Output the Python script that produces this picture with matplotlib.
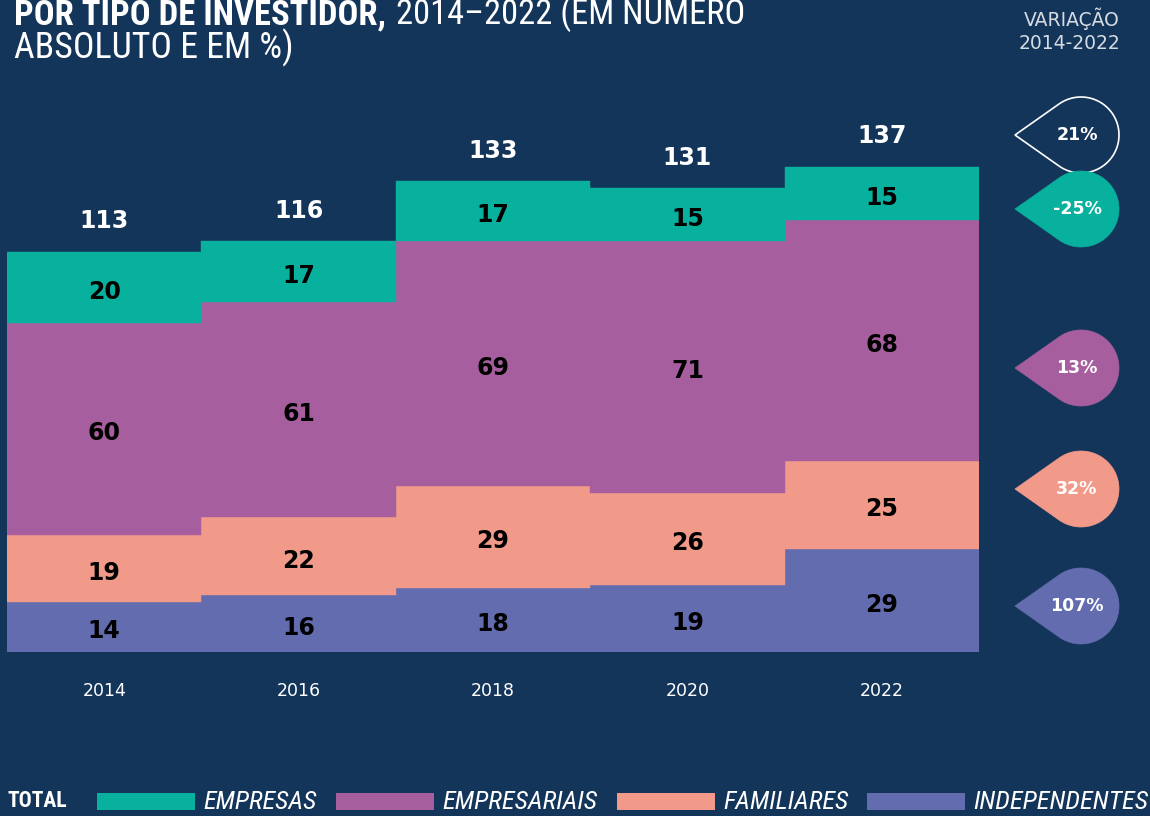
import numpy as np
import matplotlib.pyplot as plt
from matplotlib import font_manager
from matplotlib.path import Path
from matplotlib.patches import PathPatch, Rectangle

# data
years = ["2014", "2016", "2018", "2020", "2022"]
categories = ["EMPRESAS", "EMPRESARIAIS", "FAMILIARES", "INDEPENDENTES"]
independentes = [14, 16, 18, 19, 29]
familiares = [19, 22, 29, 26, 25]
empresariais = [60, 61, 69, 71, 68]
empresas = [20, 17, 17, 15, 15]
totals = [113, 116, 133, 131, 137]
variation_labels = ["21%", "-25%", "13%", "32%", "107%"]

BG = "#14355a"
colors = {
    "EMPRESAS": "#08b09e",
    "EMPRESARIAIS": "#a65e9e",
    "FAMILIARES": "#f29a89",
    "INDEPENDENTES": "#636caf",
}

# pick a condensed font if one is installed
entries = font_manager.fontManager.ttflist
names = {f.name for f in entries}
COND, STRETCH = "Roboto", "normal"
for cand in ["Roboto Condensed", "Liberation Sans Narrow", "Open Sans Condensed",
             "Noto Sans Condensed", "DejaVu Sans Condensed"]:
    if cand in names:
        COND, STRETCH = cand, "normal"
        break
else:
    if any(f.name == "DejaVu Sans" and str(f.stretch) in ("condensed", "semi-condensed")
           for f in entries):
        COND, STRETCH = "DejaVu Sans", "condensed"

W, H = 1150, 816
fig = plt.figure(figsize=(W / 100, H / 100), dpi=100, facecolor=BG)
ax = fig.add_axes([7 / W, 164 / H, 972 / W, 552 / H])
ax.set_facecolor(BG)

x = np.arange(len(years))
stack = [
    ("INDEPENDENTES", independentes),
    ("FAMILIARES", familiares),
    ("EMPRESARIAIS", empresariais),
    ("EMPRESAS", empresas),
]
bottom = np.zeros(len(years))
for name, vals in stack:
    vals = np.array(vals)
    ax.bar(x, vals, width=1.0, bottom=bottom, color=colors[name],
           edgecolor=colors[name], linewidth=0.3)
    for xi, b, v in zip(x, bottom, vals):
        ax.annotate(str(v), (xi, b + v / 2), xytext=(0, -3),
                    textcoords="offset points", ha="center", va="center",
                    fontsize=17, fontweight="bold", color="black")
    bottom = bottom + vals

for xi, t in zip(x, totals):
    ax.annotate(str(t), (xi, t), xytext=(0, 22), textcoords="offset points",
                ha="center", va="center", fontsize=17, fontweight="bold",
                color="white")

ax.set_xlim(-0.5, 4.5)
ax.set_ylim(0, 552 / 3.54)
ax.set_xticks(x)
ax.set_xticklabels(years, fontsize=12.5, color="white")
ax.tick_params(axis="x", length=0, pad=21.5)
ax.set_yticks([])
for s in ax.spines.values():
    s.set_visible(False)

# title
fitted = []
t1 = fig.text(14 / W, 1 - 24 / H, "POR TIPO DE INVESTIDOR,", family=COND,
              fontstretch=STRETCH, fontsize=22, fontweight="bold",
              color="white", va="baseline")
t2 = fig.text(396 / W, 1 - 24 / H, "2014\u20132022 (EM NÚMERO", family=COND,
              fontstretch=STRETCH, fontsize=22, color="white", va="baseline")
t3 = fig.text(14 / W, 1 - 58 / H, "ABSOLUTO E EM %)", family=COND,
              fontstretch=STRETCH, fontsize=22, color="white", va="baseline")
fitted += [(t1, 369), (t2, 349), (t3, 279)]

fig.text(1120 / W, 1 - 30 / H, "VARIAÇÃO\n2014-2022", ha="right", va="center",
         fontsize=13.5, color="#d5dbe3", linespacing=1.25)


# teardrop markers on the right
def drop_path(cx, cy, r, tip):
    a = np.arccos(r / (cx - tip))
    angs = np.linspace(np.pi - a, -(np.pi - a), 80)
    pts = [(tip, cy)] + [(cx + r * np.cos(t), cy + r * np.sin(t)) for t in angs]
    pts.append((tip, cy))
    codes = [Path.MOVETO] + [Path.LINETO] * (len(pts) - 2) + [Path.CLOSEPOLY]
    return Path(pts, codes)


drop_y = [135, 209, 368, 489, 606]
drop_fill = [BG, colors["EMPRESAS"], colors["EMPRESARIAIS"],
             colors["FAMILIARES"], colors["INDEPENDENTES"]]
dax = fig.add_axes([0, 0, 1, 1])
dax.set_xlim(0, W)
dax.set_ylim(H, 0)
dax.axis("off")
dax.patch.set_alpha(0)
for i, (yy, fc, lab) in enumerate(zip(drop_y, drop_fill, variation_labels)):
    ec = "white" if i == 0 else fc
    dax.add_patch(PathPatch(drop_path(1081, yy, 38, 1015), facecolor=fc,
                            edgecolor=ec, linewidth=1.2 if i == 0 else 0.5,
                            zorder=2 + i))
    dax.text(1077, yy, lab, ha="center", va="center", fontsize=12.5,
             fontweight="bold", color="white", zorder=10)

# legend
tt = dax.text(8, 801, "TOTAL", ha="left", va="center", family=COND,
              fontstretch=STRETCH, fontsize=14, fontweight="bold", color="white")
fitted.append((tt, 60))
leg_x = [97, 336, 617, 867]
leg_w = [113, 155, 125, 175]
for lx, lw, name in zip(leg_x, leg_w, categories):
    dax.add_patch(Rectangle((lx, 793), 98, 17, facecolor=colors[name],
                            edgecolor="none"))
    lt = dax.text(lx + 106, 802, name, ha="left", va="center", family=COND,
                  fontstretch=STRETCH, fontsize=15, style="italic", color="white")
    fitted.append((lt, lw))

# scale texts to the widths they take in the reference
fig.canvas.draw()
renderer = fig.canvas.get_renderer()
for t, target in fitted:
    w = t.get_window_extent(renderer).width
    t.set_fontsize(t.get_fontsize() * target / w)

fig.savefig("out.png", dpi=100, facecolor=BG)
